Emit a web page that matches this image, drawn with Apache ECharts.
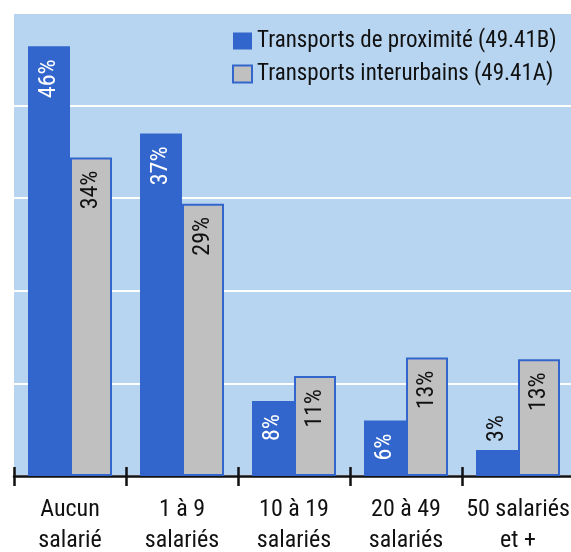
<!DOCTYPE html>
<html>
<head>
<meta charset="utf-8">
<script src="https://cdn.jsdelivr.net/npm/echarts@6/dist/echarts.min.js"></script>
<style>
  html, body { margin: 0; padding: 0; background: #fff; }
  #main { width: 571px; height: 552px; }
</style>
</head>
<body>
<div id="main"></div>
<script>
var categories = ['Aucun\nsalarié', '1 à 9\nsalariés', '10 à 19\nsalariés', '20 à 49\nsalariés', '50 salariés\net +'];
var proximite = [46.4, 37, 8.1, 6, 2.8];
var interurbains = [34.4, 29.4, 10.8, 12.8, 12.6];
var seriesNames = ['Transports de proximité (49.41B)', 'Transports interurbains (49.41A)'];

// Roboto with the width axis pulled in, close to the condensed face of the original
var font = 'Roboto, sans-serif';
var stretch = 'condensed';
var weight = 450;
var blue = '#3366cc';
var grey = '#c0c0c0';

function pct(p) {
    return Math.round(p.value) + '%';
}

// short bars get their label above the bar
function buildData(values) {
    var out = [];
    for (var i = 0; i < values.length; i++) {
        var item = { value: values[i] };
        if (values[i] < 5) {
            item.label = { position: 'top', align: 'left', distance: 8, color: '#111' };
        }
        out.push(item);
    }
    return out;
}

var barLabel = {
    show: true,
    position: 'insideTop',
    rotate: 90,
    align: 'right',
    verticalAlign: 'middle',
    distance: 13,
    fontFamily: font,
    fontStyle: stretch,
    fontWeight: weight,
    fontSize: 24,
    formatter: pct
};

var myChart = echarts.init(document.getElementById('main'));
var option = {
    animation: false,
    textStyle: { fontFamily: font },
    legend: {
        orient: 'vertical',
        left: 227,
        top: 24,
        itemWidth: 19,
        itemHeight: 17,
        itemGap: 9,
        icon: 'rect',
        textStyle: { fontFamily: font, fontStyle: stretch, fontWeight: weight, fontSize: 23, color: '#111', lineHeight: 24 },
        data: seriesNames
    },
    grid: {
        show: true,
        left: 14,
        top: 13,
        width: 560,
        height: 463,
        outerBoundsMode: 'none',
        containLabel: false,
        backgroundColor: '#b7d4f0',
        borderWidth: 0
    },
    xAxis: [{
        type: 'category',
        data: categories,
        axisLine: { show: true, lineStyle: { color: '#111', width: 2.5 } },
        axisTick: { show: true, length: 10, lineStyle: { color: '#111', width: 2.5 } },
        axisLabel: {
            margin: 18,
            fontFamily: font,
            fontStyle: stretch,
            fontWeight: weight,
            fontSize: 24,
            lineHeight: 31,
            color: '#111',
            interval: 0
        }
    }, {
        type: 'category',
        data: categories,
        position: 'bottom',
        axisLine: { show: false },
        axisTick: { show: true, inside: true, length: 9, lineStyle: { color: '#111', width: 2.5 } },
        axisLabel: { show: false }
    }],
    yAxis: {
        type: 'value',
        min: 0,
        max: 50,
        interval: 10,
        axisLine: { show: false },
        axisTick: { show: false },
        axisLabel: { show: false },
        splitLine: { lineStyle: { color: '#ffffff', width: 2 } }
    },
    series: [{
        name: seriesNames[0],
        type: 'bar',
        barWidth: 42,
        barGap: '0%',
        itemStyle: { color: blue },
        label: Object.assign({}, barLabel, { color: '#fff' }),
        data: buildData(proximite)
    }, {
        name: seriesNames[1],
        type: 'bar',
        barWidth: 42,
        itemStyle: { color: grey, borderColor: blue, borderWidth: 2 },
        label: Object.assign({}, barLabel, { color: '#111' }),
        data: buildData(interurbains)
    }]
};
myChart.setOption(option);
</script>
</body>
</html>
